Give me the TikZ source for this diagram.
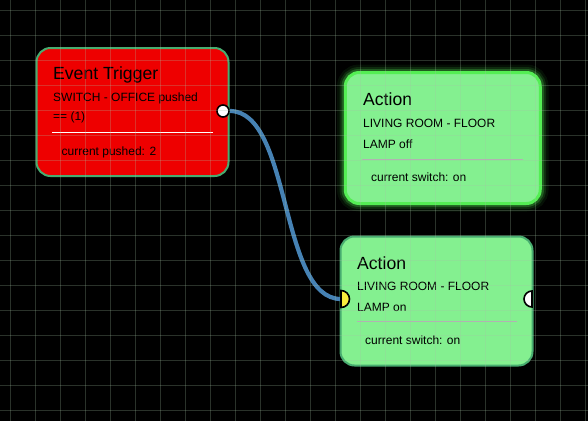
\documentclass[tikz,border=0pt]{standalone}
\usepackage{fontspec}
\setmainfont{Liberation Sans}
\usetikzlibrary{positioning,calc}
\definecolor{triggerred}{RGB}{238,0,0}
\definecolor{actiongreen}{RGB}{132,240,144}
\definecolor{edgegreen}{RGB}{72,172,112}
\definecolor{glowgreen}{RGB}{84,238,84}
\definecolor{wireblue}{RGB}{70,130,180}
\definecolor{portyellow}{RGB}{250,236,60}
\definecolor{gridgreen}{RGB}{165,195,165}

\begin{document}
\begin{tikzpicture}[x=1pt,y=-1pt,
    box/.style={draw, line width=2pt, rounded corners=14pt, inner sep=0pt},
    title/.style={anchor=base west, inner sep=0pt, font=\fontsize{17.6}{20}\selectfont},
    info/.style={anchor=base west, inner sep=0pt, font=\fontsize{12}{14}\selectfont},
    port/.style={circle, draw=black, line width=1.6pt, inner sep=0pt, minimum size=12pt},
    wire/.style={draw=wireblue, line width=4.2pt},
    gridline/.style={draw=gridgreen, opacity=0.26, line width=0.8pt}]
    \fill[black] (0,0) rectangle (588,421);
    \useasboundingbox (0,0) rectangle (588,421);
    % event trigger
    \node[box, fill=triggerred, draw=edgegreen, minimum width=192pt, minimum height=128pt] (trigger) at (132.5,112) {};
    \node[title] (trigger-title) at (53,79) {Event Trigger};
    \node[info] (trigger-cond) at (53,101) {SWITCH - OFFICE pushed};
    \node[info] (trigger-eq) at (53,120.5) {== (1)};
    \draw[white, line width=1.6pt] (52,132.5) -- (213,132.5);
    \node[info] (trigger-state) at (61.5,155.5) {current pushed: 2};
    \node[port, fill=white] (trigger-out) at (223,111) {};
    % action, off (selected)
    \foreach \w/\o in {16/0.07,11/0.13,7/0.25}
        \draw[glowgreen, line width=\w pt, opacity=\o, rounded corners=14pt] (345,72.5) rectangle (540.5,203.5);
    \node[box, fill=actiongreen, draw=glowgreen, line width=3pt, minimum width=195pt, minimum height=131pt] (lamp-off) at (442.75,138) {};
    \node[title] (off-title) at (363,105) {Action};
    \node[info] (off-dev) at (363,127.5) {LIVING ROOM - FLOOR};
    \node[info] (off-cmd) at (363,148) {LAMP off};
    \draw[black!30, line width=1pt] (362,159.5) -- (523,159.5);
    \node[info] (off-state) at (371,181.5) {current switch: on};
    % action, on
    \node[box, fill=actiongreen, draw=edgegreen, minimum width=192pt, minimum height=129pt] (lamp-on) at (436.5,301) {};
    \node[title] (on-title) at (357,269) {Action};
    \node[info] (on-dev) at (357,290) {LIVING ROOM - FLOOR};
    \node[info] (on-cmd) at (357,311) {LAMP on};
    \draw[black!30, line width=1pt] (357,321.5) -- (517,321.5);
    \node[info] (on-state) at (365,344) {current switch: on};
    \coordinate (lamp-in) at (341,299);
    \coordinate (lamp-out) at (532,299);
    % wire
    \draw[wire] (trigger-out.east) .. controls +(62,0) and +(-62,0) .. (lamp-in);
    \filldraw[fill=portyellow, draw=black, line width=1.6pt] ($(lamp-in)+(0,-8.5)$) arc[start angle=90, end angle=-90, radius=8.5pt] -- cycle;
    \filldraw[fill=white, draw=black, line width=1.6pt] ($(lamp-out)+(0,-8)$) arc[start angle=90, end angle=270, radius=8pt] -- cycle;
    % grid on top
    \foreach \x in {10,35,...,585}
        \draw[gridline] (\x,0) -- (\x,421);
    \foreach \y in {10,35,...,410}
        \draw[gridline] (0,\y) -- (588,\y);
\end{tikzpicture}
\end{document}
